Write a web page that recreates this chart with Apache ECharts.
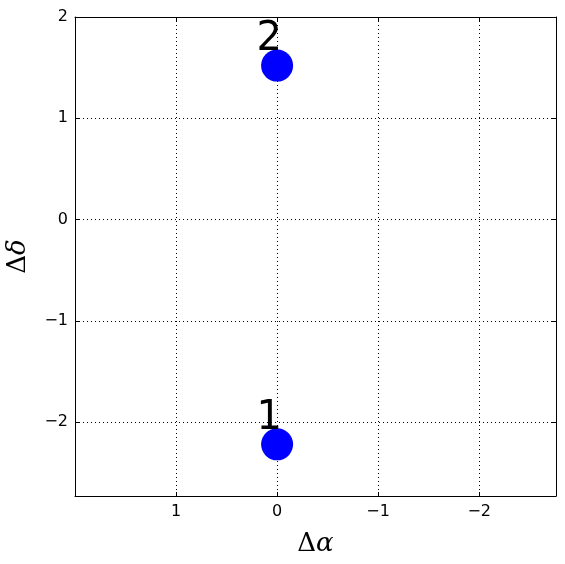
<!DOCTYPE html>
<html><head><meta charset="utf-8">
<script src="https://cdn.jsdelivr.net/npm/echarts@6/dist/echarts.min.js"></script>
<style>html,body{margin:0;padding:0;background:#fff}#c{width:565px;height:564px}</style>
</head><body><div id="c"></div>
<script>
const pointNames = ['1', '2'];
const dAlpha = [0, 0];
const dDelta = [-2.22, 1.52];
const xTicks = [1, 0, -1, -2];
const yTicks = [-2, -1, 0, 1, 2];
const xRange = [-2.76, 2.0];
const yRange = [-2.73, 2.0];

const fmt = v => (v < 0 ? '\u2212' + Math.abs(v) : String(v));
const grid = { left: 75, right: 9, top: 17, bottom: 68, containLabel: false, outerBoundsMode: 'none' };
const split = { show: true, lineStyle: { color: '#000', type: [1, 3], width: 1 } };
function xa(pos, main) {
  return {
    type: 'value', position: pos, min: xRange[0], max: xRange[1], inverse: true,
    axisLine: { show: true, onZero: false, lineStyle: { color: '#000', width: 1 } },
    axisTick: { show: true, inside: true, length: 4, lineStyle: { color: '#000' }, customValues: xTicks },
    axisLabel: { show: main, customValues: xTicks, formatter: fmt, color: '#000', fontSize: 16, fontFamily: 'DejaVu Sans', margin: 8 },
    splitLine: main ? split : { show: false },
    name: main ? '{d|\u0394}{a|\u03b1}' : '', nameLocation: 'middle', nameGap: 35,
    nameTextStyle: { rich: { d: { fontFamily: 'DejaVu Serif', fontSize: 26, color: '#000' }, a: { fontFamily: 'DejaVu Serif', fontStyle: 'italic', fontSize: 26, color: '#000' } } }
  };
}
function ya(pos, main) {
  return {
    type: 'value', position: pos, min: yRange[0], max: yRange[1],
    axisLine: { show: true, onZero: false, lineStyle: { color: '#000', width: 1 } },
    axisTick: { show: true, inside: true, length: 4, lineStyle: { color: '#000' }, customValues: yTicks },
    axisLabel: { show: main, customValues: yTicks, formatter: fmt, color: '#000', fontSize: 16, fontFamily: 'DejaVu Sans', margin: 7 },
    splitLine: main ? split : { show: false },
    name: main ? '{d|\u0394}{a|\u03b4}' : '', nameLocation: 'middle', nameGap: 44, nameRotate: 90,
    nameTextStyle: { rich: { d: { fontFamily: 'DejaVu Serif', fontSize: 26, color: '#000' }, a: { fontFamily: 'DejaVu Serif', fontStyle: 'italic', fontSize: 26, color: '#000' } } }
  };
}
const chart = echarts.init(document.getElementById('c'), null, { renderer: 'canvas' });
chart.setOption({
  animation: false,
  backgroundColor: '#fff',
  grid: grid,
  xAxis: [xa('bottom', true), xa('top', false)],
  yAxis: [ya('left', true), ya('right', false)],
  series: [{
    type: 'scatter', xAxisIndex: 0, yAxisIndex: 0,
    symbolSize: 32,
    itemStyle: { color: '#0000ff', opacity: 1 },
    data: dAlpha.map((x, i) => ({ value: [x, dDelta[i]], name: pointNames[i] })),
    label: {
      show: true, formatter: p => p.name, position: [8, -10], align: 'center', verticalAlign: 'middle',
      fontFamily: 'DejaVu Sans', fontSize: 40, color: '#000'
    },
    emphasis: { disabled: true }
  }]
});
</script></body></html>
